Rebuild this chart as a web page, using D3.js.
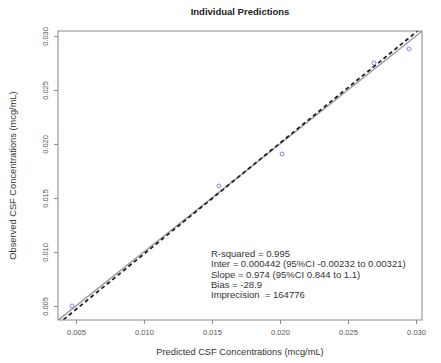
<!DOCTYPE html>
<html>
<head>
<meta charset="utf-8">
<script src="https://cdn.jsdelivr.net/npm/d3@7"></script>
<style>
  body { margin: 0; background: #fff; }
  svg text { font-family: "Liberation Sans", Arial, sans-serif; white-space: pre; }
</style>
</head>
<body>
<div id="chart"></div>
<script>
const predicted = [0.00471, 0.01551, 0.02015, 0.02691, 0.02949];
const observed = [0.00500, 0.01611, 0.01907, 0.02750, 0.02880];
const xTicks = [0.005, 0.010, 0.015, 0.020, 0.025, 0.030];
const yTicks = [0.005, 0.010, 0.015, 0.020, 0.025, 0.030];
const statLines = [
  'R-squared = 0.995',
  'Inter = 0.000442 (95%CI -0.00232 to 0.00321)',
  'Slope = 0.974 (95%CI 0.844 to 1.1)',
  'Bias = -28.9',
  'Imprecision  = 164776'
];
const inter = 0.000442;
const slope = 0.974;

const axisGray = '#8a8a8a';
const labelGray = '#555';
const pointBlue = '#8080ff';

const width = 441, height = 363;
const margin = { top: 31, right: 19, bottom: 43, left: 58 };

const svg = d3.select('#chart').append('svg')
  .attr('width', width)
  .attr('height', height);

const xScale = d3.scaleLinear()
  .domain([0.00368, 0.03044])
  .range([margin.left, width - margin.right]);

const yScale = d3.scaleLinear()
  .domain([0.0037, 0.03046])
  .range([height - margin.bottom, margin.top]);

// clip lines to the plot box
svg.append('clipPath').attr('id', 'plot-clip')
  .append('rect')
  .attr('x', margin.left)
  .attr('y', margin.top)
  .attr('width', width - margin.left - margin.right)
  .attr('height', height - margin.top - margin.bottom);

const plot = svg.append('g').attr('clip-path', 'url(#plot-clip)');
const [x0, x1] = xScale.domain();

// identity line
plot.append('line')
  .attr('x1', xScale(x0)).attr('y1', yScale(x0))
  .attr('x2', xScale(x1)).attr('y2', yScale(x1))
  .attr('stroke', '#9a9a9a')
  .attr('stroke-width', 1.4);

// regression line (predicted on observed)
const regObs = (p) => (p - inter) / slope;
plot.append('line')
  .attr('x1', xScale(x0)).attr('y1', yScale(regObs(x0)))
  .attr('x2', xScale(x1)).attr('y2', yScale(regObs(x1)))
  .attr('stroke', '#222')
  .attr('stroke-width', 1.8)
  .attr('stroke-dasharray', '4,3');

// points
svg.selectAll('.pt')
  .data(predicted.map((p, i) => ({ p, o: observed[i] })))
  .enter()
  .append('circle')
  .attr('class', 'pt')
  .attr('cx', d => xScale(d.p))
  .attr('cy', d => yScale(d.o))
  .attr('r', 2)
  .attr('fill', 'none')
  .attr('stroke', pointBlue)
  .attr('stroke-width', 1);

// box
svg.append('rect')
  .attr('x', margin.left)
  .attr('y', margin.top)
  .attr('width', width - margin.left - margin.right)
  .attr('height', height - margin.top - margin.bottom)
  .attr('fill', 'none')
  .attr('stroke', axisGray)
  .attr('stroke-width', 1);

// x axis
const xAxis = d3.axisBottom(xScale)
  .tickValues(xTicks)
  .tickSize(4)
  .tickPadding(6)
  .tickFormat(d3.format('.3f'));

const xAxisEl = svg.append('g')
  .attr('transform', `translate(0, ${height - margin.bottom})`)
  .call(xAxis);
xAxisEl.select('.domain').remove();
xAxisEl.selectAll('.tick line').attr('stroke', axisGray);
xAxisEl.selectAll('.tick text')
  .attr('fill', labelGray)
  .style('font-size', '7.5px');

// y axis, labels rotated like R's default
const yAxis = d3.axisLeft(yScale)
  .tickValues(yTicks)
  .tickSize(4)
  .tickFormat(d3.format('.3f'));

const yAxisEl = svg.append('g')
  .attr('transform', `translate(${margin.left}, 0)`)
  .call(yAxis);
yAxisEl.select('.domain').remove();
yAxisEl.selectAll('.tick line').attr('stroke', axisGray);
yAxisEl.selectAll('.tick text')
  .attr('fill', labelGray)
  .style('font-size', '7.5px')
  .attr('x', null).attr('dy', null)
  .attr('text-anchor', 'middle')
  .attr('transform', 'translate(-12, 0) rotate(-90)')
  .attr('dominant-baseline', 'middle');

// titles
svg.append('text')
  .attr('x', xScale((x0 + x1) / 2))
  .attr('y', 15)
  .attr('text-anchor', 'middle')
  .style('font-size', '9.5px')
  .style('font-weight', 'bold')
  .attr('fill', '#222')
  .text('Individual Predictions');

svg.append('text')
  .attr('x', xScale((x0 + x1) / 2))
  .attr('y', 355)
  .attr('text-anchor', 'middle')
  .style('font-size', '9.3px')
  .attr('fill', '#333')
  .text('Predicted CSF Concentrations (mcg/mL)');

svg.append('text')
  .attr('transform', `translate(16, ${(margin.top + height - margin.bottom) / 2}) rotate(-90)`)
  .attr('text-anchor', 'middle')
  .style('font-size', '9.3px')
  .attr('fill', '#333')
  .text('Observed CSF Concentrations (mcg/mL)');

// stats block
svg.append('g')
  .selectAll('text')
  .data(statLines)
  .enter()
  .append('text')
  .attr('x', 211)
  .attr('y', (d, i) => 257 + i * 10.3)
  .style('font-size', '9.5px')
  .attr('fill', '#333')
  .text(d => d);
</script>
</body>
</html>
